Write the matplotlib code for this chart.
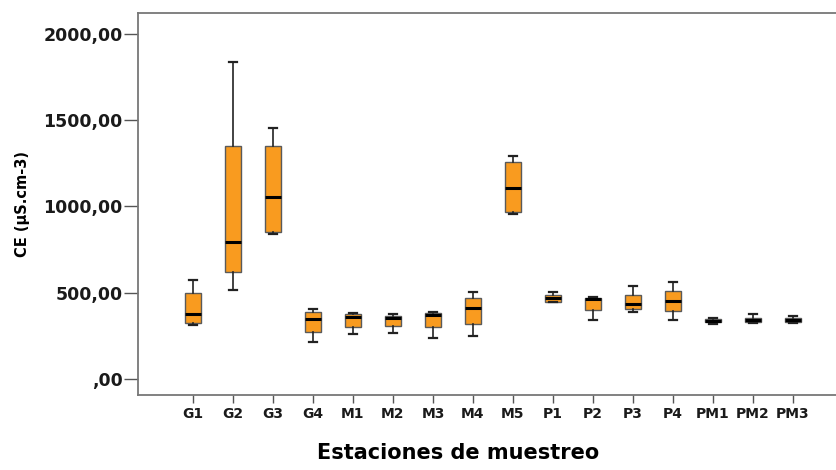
import matplotlib
matplotlib.use("Agg")
import matplotlib.pyplot as plt
from matplotlib.ticker import FuncFormatter

plt.rcParams['font.family'] = ['DejaVu Sans']

# box statistics (whislo, q1, median, q3, whishi)
stations = ["G1", "G2", "G3", "G4", "M1", "M2", "M3", "M4", "M5",
            "P1", "P2", "P3", "P4", "PM1", "PM2", "PM3"]
whislo = [315, 516, 838, 216, 261, 268, 239, 251, 956, 444, 342, 390, 344, 319, 323, 323]
q1 = [324, 618, 850, 274, 303, 309, 300, 317, 969, 448, 400, 407, 394, 328, 330, 330]
med = [377, 796, 1056, 348, 361, 352, 369, 410, 1107, 471, 462, 435, 454, 338, 344, 344]
q3 = [498, 1352, 1352, 386, 377, 367, 384, 471, 1259, 487, 469, 487, 512, 348, 355, 353]
whishi = [574, 1838, 1452, 406, 384, 375, 388, 506, 1292, 502, 473, 541, 560, 355, 377, 365]

stats = []
for i, s in enumerate(stations):
    stats.append({"label": s, "whislo": whislo[i], "q1": q1[i], "med": med[i],
                  "q3": q3[i], "whishi": whishi[i], "fliers": []})

fig = plt.figure(figsize=(8.37, 4.70), dpi=100)
ax = fig.add_axes([138 / 837, 75 / 470, (837 - 138) / 837, (395 - 13) / 470])

ax.bxp(stats, positions=range(len(stations)), widths=0.42, patch_artist=True,
       showfliers=False,
       boxprops=dict(facecolor="#f99b1f", edgecolor="#5a5a5a", linewidth=1.0),
       medianprops=dict(color="black", linewidth=2.2),
       whiskerprops=dict(color="#222222", linewidth=1.2),
       capprops=dict(color="#222222", linewidth=1.6),
       capwidths=0.2)

ax.set_xlim(-1.375, 16.1)
ax.set_ylim(-93, 2120)
ax.set_yticks([0, 500, 1000, 1500, 2000])
ax.yaxis.set_major_formatter(FuncFormatter(
    lambda v, p: ",00" if v == 0 else "%d,00" % v))

ax.spines["right"].set_visible(False)
for sp in ["left", "bottom", "top"]:
    ax.spines[sp].set_color("#777777")
    ax.spines[sp].set_linewidth(1.3)

ax.tick_params(axis="y", length=10, width=1.0, color="#555555", pad=1,
               labelsize=12.5, labelcolor="#1a1a1a")
ax.tick_params(axis="x", length=6, width=1.0, color="#555555", pad=3,
               labelsize=10, labelcolor="#1a1a1a")
for lbl in ax.get_xticklabels() + ax.get_yticklabels():
    lbl.set_fontweight("bold")

ax.set_ylabel("CE (µS.cm-3)", fontsize=10.5, fontweight="bold", labelpad=10)
ax.set_xlabel("Estaciones de muestreo", fontsize=15, fontweight="bold")
ax.xaxis.set_label_coords((458 - 138) / 699, -0.125)

fig.savefig("out.png", dpi=100)
